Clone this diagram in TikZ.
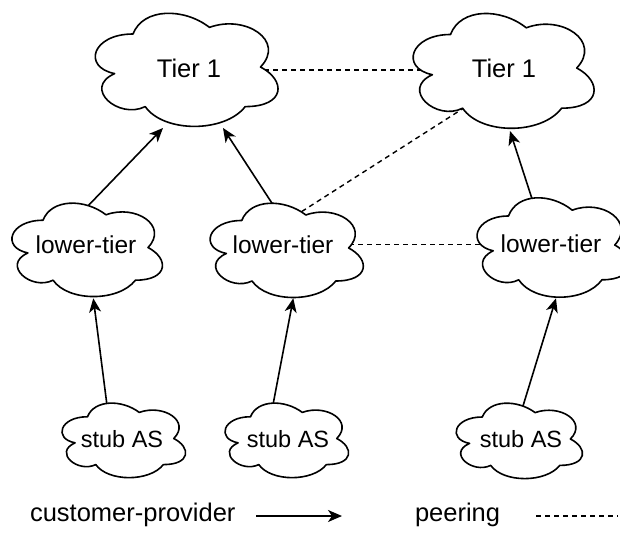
\documentclass[tikz,border=0pt]{standalone}
\usepackage{fontspec}
\setmainfont{Liberation Sans}
\usetikzlibrary{arrows.meta}
\pgfdeclarelayer{edges}
\pgfsetlayers{edges,main}

\newcommand\tierfont{\fontsize{25.5}{30}\selectfont}
\newcommand\lowfont{\fontsize{24.5}{29}\selectfont}
\newcommand\stubfont{\fontsize{23.5}{28}\selectfont}
\newcommand\legfont{\fontsize{25.5}{30}\selectfont}

\tikzset{
  cloudline/.style={draw=black, fill=white, line width=1.6pt, line join=round},
  cloudtext/.style={inner sep=0pt, outer sep=0pt, text=black},
  provider/.style={draw=black, line width=1.6pt,
    -{Stealth[length=14pt,width=12pt,inset=4pt]}},
  peer/.style={draw=black, line width=1.4pt, dash pattern=on 5pt off 4pt},
}

% cloud outline in a box: left, top, width, height (y grows downward)
\newcommand\cloudshape[4]{%
  \draw[cloudline, shift={(#1,#2)}, x=#3pt, y=-#4pt]
    (0.25,0.25) .. controls (0.05,0.25) and (0,0.5) .. (0.16,0.55)
    .. controls (0,0.66) and (0.18,0.9) .. (0.31,0.8)
    .. controls (0.4,1) and (0.7,1) .. (0.8,0.8)
    .. controls (1,0.8) and (1,0.6) .. (0.875,0.5)
    .. controls (1,0.3) and (0.8,0.1) .. (0.625,0.2)
    .. controls (0.5,0.05) and (0.3,0.05) .. (0.25,0.25) -- cycle;
}

\begin{document}
\begin{tikzpicture}[x=1pt,y=-1pt]
\useasboundingbox (0,0) rectangle (620,534);

% Tier 1 providers
\cloudshape{82}{1}{204}{132}
\node[cloudtext, font=\tierfont] (t1) at (189,68) {Tier 1};
\cloudshape{400}{1}{202}{134}
\node[cloudtext, font=\tierfont] (t2) at (504,68) {Tier 1};

% lower-tier providers
\cloudshape{1}{193}{168}{109}
\node[cloudtext, font=\lowfont] (low1) at (86,245) {lower-tier};
\cloudshape{199}{193}{171}{110}
\node[cloudtext, font=\lowfont] (low2) at (283,245) {lower-tier};
\cloudshape{466}{187}{170}{116}
\node[cloudtext, font=\lowfont] (low3) at (551,244) {lower-tier};

% stub networks
\cloudshape{53}{395}{138}{87}
\node[cloudtext, font=\stubfont] (stub1) at (122,439) {stub AS};
\cloudshape{216}{395}{138}{87}
\node[cloudtext, font=\stubfont] (stub2) at (288,439) {stub AS};
\cloudshape{447}{395}{141}{88}
\node[cloudtext, font=\stubfont] (stub3) at (521,439) {stub AS};

% links, kept beneath the clouds
\begin{pgfonlayer}{edges}
  \draw[provider] ([shift={(0,-37)}]low1.center) -- ([shift={(-26,60)}]t1.center);
  \draw[provider] ([shift={(-10.5,-41)}]low2.center) -- ([shift={(34,60)}]t1.center);
  \draw[provider] ([shift={(-17,-39)}]low3.center) -- ([shift={(6,63)}]t2.center);
  \draw[provider] ([shift={(-14.4,-29)}]stub1.center) -- ([shift={(7.3,53.3)}]low1.center);
  \draw[provider] ([shift={(-16,-29)}]stub2.center) -- ([shift={(10.3,53.3)}]low2.center);
  \draw[provider] ([shift={(0.3,-27.5)}]stub3.center) -- ([shift={(5,54.3)}]low3.center);
  \draw[peer] ([shift={(66,2)}]t1.center) -- ([shift={(-59,2)}]t2.center);
  \draw[peer] ([shift={(11.1,-28.6)}]low2.center) -- ([shift={(-31.4,34.4)}]t2.center);
  \draw[peer] ([shift={(57,-0.5)}]low2.center) -- ([shift={(-51,0.5)}]low3.center);
\end{pgfonlayer}

% legend
\node[cloudtext, font=\legfont, anchor=base west] (legcp) at (30,521) {customer-provider};
\coordinate (cpA) at (256,516);
\coordinate (cpB) at (342,516);
\draw[provider] (cpA) -- (cpB);
\node[cloudtext, font=\legfont, anchor=base west] (legpeer) at (415,521) {peering};
\coordinate (prA) at (536,516);
\coordinate (prB) at (618,516);
\draw[peer] (prA) -- (prB);
\end{tikzpicture}
\end{document}
